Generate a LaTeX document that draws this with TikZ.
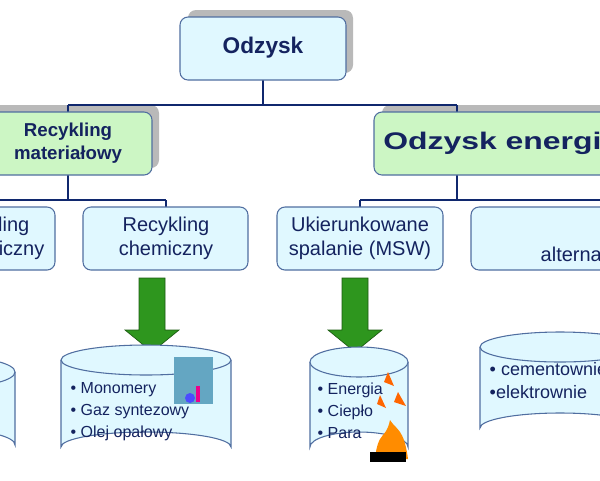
\documentclass[tikz,border=0pt]{standalone}
\usepackage{fontspec}
\setmainfont{Liberation Sans}
\usetikzlibrary{calc}

\begin{document}
\begin{tikzpicture}[x=0.75pt,y=-0.75pt]

\definecolor{boxfill}{RGB}{224,248,255}
\definecolor{greenfill}{RGB}{204,246,196}
\definecolor{boxline}{RGB}{80,110,160}
\definecolor{linkcolor}{RGB}{16,40,110}
\definecolor{textcolor}{RGB}{20,35,95}
\definecolor{arrowgreen}{RGB}{46,150,30}

\tikzset{
  card/.style={draw=boxline,fill=boxfill,rounded corners=6pt,line width=0.8pt},
  gcard/.style={card,fill=greenfill},
  shade/.style={fill=gray!55,rounded corners=6pt},
  link/.style={draw=linkcolor,line width=2.2pt},
  label/.style={text=textcolor,align=center,font=\fontsize{15}{18}\selectfont},
  blabel/.style={label,font=\bfseries\fontsize{14}{17}\selectfont},
  item/.style={text=textcolor,align=left,font=\fontsize{12}{16.5}\selectfont,anchor=north west},
  tank/.style={draw=boxline,fill=boxfill,line width=0.8pt},
  bigarrow/.style={fill=arrowgreen,draw=arrowgreen!60!black,line width=0.5pt}
}

\useasboundingbox (0,0) rectangle (600,480);
\clip (0,0) rectangle (600,480);

% SHADOWS
\fill[shade] (188,10) rectangle (353,73);
\fill[shade] (-30,105) rectangle (159,168);
\fill[shade] (382,105) rectangle (640,168);

% CONNECTORS
\coordinate (hubTop) at (263,105);
\coordinate (hubMat) at (68,200);
\coordinate (hubEn) at (457,200);
\draw[link] (263,80) -- (hubTop);
\draw[link] (68,105) -- (457,105);
\draw[link] (68,105) -- (68,112);
\draw[link] (457,105) -- (457,112);
\draw[link] (68,175) -- (hubMat);
\draw[link] (-20,200) -- (166,200);
\draw[link] (-20,200) -- (-20,207);
\draw[link] (166,200) -- (166,207);
\draw[link] (457,175) -- (hubEn);
\draw[link] (360,200) -- (620,200);
\draw[link] (360,200) -- (360,207);
\draw[link] (620,200) -- (620,207);

% BOXES
\draw[card] (180,17) rectangle (346,80);
\node[blabel,font=\bfseries\fontsize{17}{20}\selectfont] (odzysk) at (263,48) {Odzysk};

\draw[gcard] (-20,112) rectangle (152,175);
\node[blabel] (material) at (68,143) {Recykling\\materiałowy};

\draw[gcard] (374,112) rectangle (650,175);
\node[blabel,anchor=west,font=\bfseries\fontsize{18}{20}\selectfont,xscale=1.33,inner sep=0pt] (energy) at (383,143) {Odzysk energii};

\draw[card] (-120,207) rectangle (55,270);
\node[label] (mech) at (-14,238) {Recykling\\mechaniczny};

\draw[card] (83,207) rectangle (248,270);
\node[label] (chem) at (166,238) {Recykling\\chemiczny};

\draw[card] (277,207) rectangle (443,270);
\node[label] (msw) at (360,238) {Ukierunkowane\\spalanie (MSW)};

\draw[card] (471,207) rectangle (660,270);
\node[label,anchor=west] (alt) at (536,256) {alternatywne};

% ARROWS
\foreach \ax in {152,355}
  \draw[bigarrow] (\ax-13,278) -- (\ax+13,278) -- (\ax+13,330) -- (\ax+27,330)
    -- (\ax,352) -- (\ax-27,330) -- (\ax-13,330) -- cycle;

% TANKS
\def\ry{15}
\draw[tank] (-105,372) -- (-105,445) arc (180:360:60 and \ry) -- (15,372);
\draw[tank] (-45,372) ellipse (60 and \ry);

\draw[tank] (61,360) -- (61,447) arc (180:360:85 and \ry) -- (231,360);
\draw[tank] (146,360) ellipse (85 and \ry);

\draw[tank] (310,362) -- (310,447) arc (180:360:49 and \ry) -- (408,362);
\draw[tank] (359,362) ellipse (49 and \ry);

\draw[tank] (480,347) -- (480,428) arc (180:360:80 and \ry) -- (640,347);
\draw[tank] (560,347) ellipse (80 and \ry);

% TANK TEXTS
\node[item] (chemout) at (66,378) {• Monomery\\• Gaz syntezowy\\• Olej opałowy};
\node[item] (mswout) at (313,378) {• Energia\\• Ciepło\\• Para};
\node[item,font=\fontsize{13.5}{17}\selectfont] (altout) at (485,358) {• cementownie\\•elektrownie};

% PICTURES
\fill[gray!50!cyan] (174,357) rectangle (213,404);
\fill[blue!70!white] (190,398) circle (5);
\fill[magenta] (196,386) rectangle (200,402);
\fill[orange!90!yellow] (375,459) .. controls (378,430) and (386,440) .. (390,420)
  .. controls (396,430) and (404,428) .. (408,459) -- cycle;
\fill[orange!80!red] (388,372) -- (394,386) -- (384,382) -- cycle;
\fill[orange!80!red] (398,392) -- (406,406) -- (394,402) -- cycle;
\fill[orange!80!red] (380,395) -- (386,408) -- (377,404) -- cycle;
\fill[black] (370,452) rectangle (406,462);

\end{tikzpicture}
\end{document}
